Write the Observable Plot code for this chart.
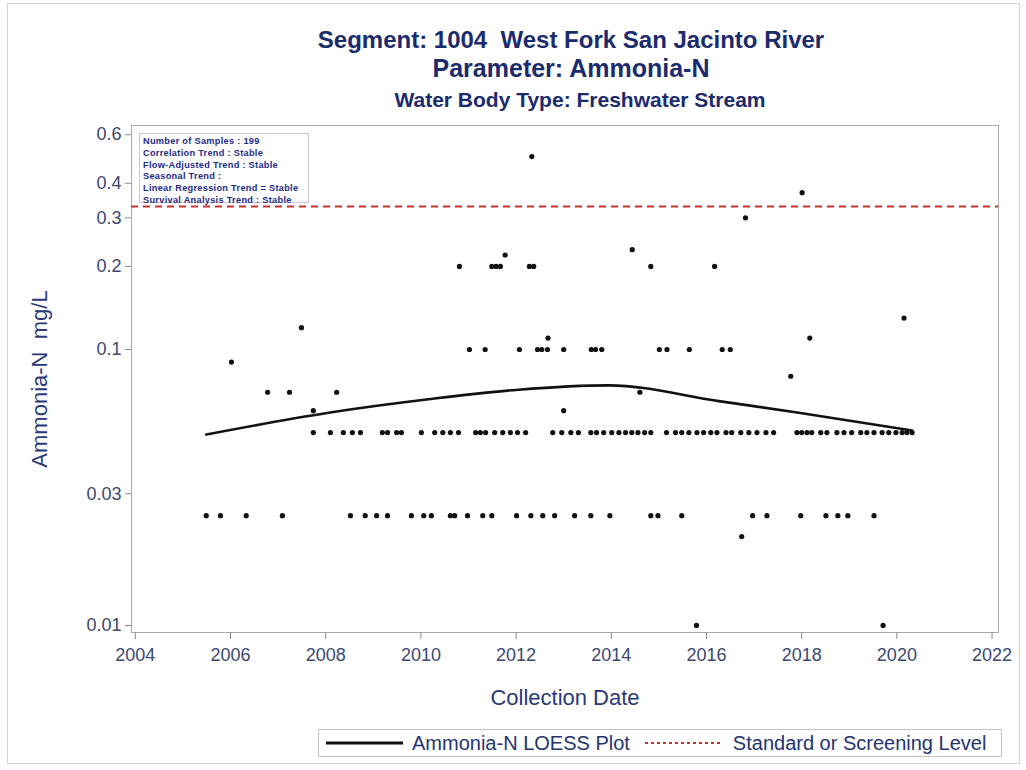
<!DOCTYPE html>
<html>
<head>
<meta charset="utf-8">
<script src="https://cdn.jsdelivr.net/npm/d3@7"></script>
<script src="https://cdn.jsdelivr.net/npm/@observablehq/plot@0.6"></script>
<style>
  body { margin: 0; background: #fff; font-family: "Liberation Sans", Arial, sans-serif; }
  #wrap { position: relative; width: 1026px; height: 770px; overflow: hidden; }
  #outer { position: absolute; left: 7px; top: 3px; width: 1011px; height: 759px; border: 1px solid #d4d4d4; }
  .title { position: absolute; left: 131px; width: 880px; text-align: center; font-weight: bold; color: #1c2a6e; white-space: pre; }
  #chart { position: absolute; left: 0; top: 110px; }
  #stats { position: absolute; left: 139px; top: 133px; width: 170px; height: 70px; border: 1px solid #c8c8d8;
           font-size: 9.2px; letter-spacing: 0.3px; font-weight: bold; color: #1e2c85; line-height: 11.8px; padding: 2px 0 0 3px; box-sizing: border-box; background: #fff; white-space: nowrap; }
  #legend { position: absolute; left: 318px; top: 729px; width: 684px; height: 28px; border: 1px solid #c4c4c4; box-sizing: border-box;
            display: flex; align-items: center; font-size: 20px; color: #25346f; white-space: nowrap; }
  #legend svg { display: block; }
</style>
</head>
<body>
<div id="wrap">
  <div id="outer"></div>
  <div class="title" id="t1" style="top:26px; font-size:24px;"></div>
  <div class="title" id="t2" style="top:54px; font-size:25px;"></div>
  <div class="title" id="t3" style="top:88px; left:140px; font-size:21px;"></div>
  <div id="chart"></div>
  <div id="stats"></div>
  <div id="legend"></div>
</div>
<script>
// ---- text ----
const titleLines = ["Segment: 1004  West Fork San Jacinto River", "Parameter: Ammonia-N", "Water Body Type: Freshwater Stream"];
const statsLines = ["Number of Samples : 199", "Correlation Trend : Stable", "Flow-Adjusted Trend : Stable", "Seasonal Trend :", "Linear Regression Trend = Stable", "Survival Analysis Trend : Stable"];
const xLabel = "Collection Date";
const yLabel = "Ammonia-N  mg/L";
const legendLabels = ["Ammonia-N LOESS Plot", "Standard or Screening Level"];

// ---- ticks ----
const xTicks = [2004, 2006, 2008, 2010, 2012, 2014, 2016, 2018, 2020, 2022];
const yTicks = [0.01, 0.03, 0.1, 0.2, 0.3, 0.4, 0.6];

// ---- standard level ----
const standardLevel = 0.33;

// ---- samples at 0.05 mg/L (decimal year) ----
const dates05 = [2007.74, 2008.10, 2008.37, 2008.56, 2008.73, 2009.19, 2009.30, 2009.49, 2009.59, 2010.01,
  2010.29, 2010.46, 2010.62, 2010.79, 2011.15, 2011.25, 2011.36, 2011.55, 2011.72, 2011.88,
  2012.03, 2012.20, 2012.77, 2012.96, 2013.15, 2013.31, 2013.57, 2013.69, 2013.84, 2014.01,
  2014.16, 2014.30, 2014.43, 2014.56, 2014.70, 2014.83, 2015.16, 2015.35, 2015.48, 2015.63,
  2015.80, 2015.94, 2016.09, 2016.22, 2016.41, 2016.53, 2016.72, 2016.89, 2017.06, 2017.25,
  2017.41, 2017.90, 2018.00, 2018.11, 2018.21, 2018.40, 2018.53, 2018.74, 2018.89, 2019.05,
  2019.24, 2019.37, 2019.52, 2019.69, 2019.83, 2019.98, 2020.11, 2020.21, 2020.32];

// ---- samples at 0.025 mg/L ----
const dates025 = [2005.49, 2005.79, 2006.33, 2007.09, 2008.52, 2008.83, 2009.07, 2009.30, 2009.80, 2010.06,
  2010.22, 2010.62, 2010.71, 2010.98, 2011.30, 2011.49, 2012.01, 2012.31, 2012.56, 2012.81,
  2013.23, 2013.57, 2013.97, 2014.83, 2014.98, 2015.48, 2016.97, 2017.27, 2017.98, 2018.51,
  2018.76, 2018.97, 2019.52];

// ---- samples at 0.1 mg/L ----
const dates01 = [2011.02, 2011.35, 2012.07, 2012.45, 2012.54, 2012.66, 2013.00, 2013.58, 2013.67, 2013.80,
  2015.01, 2015.17, 2015.64, 2016.33, 2016.50];

// ---- samples at 0.2 mg/L ----
const dates02 = [2010.81, 2011.49, 2011.58, 2011.67, 2012.28, 2012.37, 2014.83, 2016.17];

// ---- other samples ----
const otherDates  = [2006.02, 2006.78, 2007.24, 2007.49, 2007.74, 2008.23, 2011.77, 2012.33, 2014.44, 2012.67,
  2018.17, 2018.01, 2016.82, 2020.15, 2017.77, 2013.00, 2014.60, 2015.79, 2019.71, 2016.74];
const otherValues = [0.09, 0.07, 0.07, 0.12, 0.06, 0.07, 0.22, 0.5, 0.23, 0.11,
  0.11, 0.37, 0.30, 0.13, 0.08, 0.06, 0.07, 0.01, 0.01, 0.021];

// ---- LOESS curve ----
const loessDates  = [2005.49, 2008.06, 2010.16, 2012.05, 2013.95, 2016.26, 2017.94, 2020.32];
const loessValues = [0.0492, 0.0590, 0.0660, 0.0715, 0.0741, 0.0650, 0.0590, 0.0509];

// ---- build tables ----
const samples = [
  ...dates05.map(d => ({date: d, value: 0.05})),
  ...dates025.map(d => ({date: d, value: 0.025})),
  ...dates01.map(d => ({date: d, value: 0.1})),
  ...dates02.map(d => ({date: d, value: 0.2})),
  ...otherDates.map((d, i) => ({date: d, value: otherValues[i]}))
];
const loess = loessDates.map((d, i) => ({date: d, value: loessValues[i]}));

document.getElementById("t1").textContent = titleLines[0];
document.getElementById("t2").textContent = titleLines[1];
document.getElementById("t3").textContent = titleLines[2];
document.getElementById("stats").innerHTML = statsLines.map(s => `<div>${s}</div>`).join("");

const tickColor = "#3c4870";
const labelColor = "#2a3a78";

const chart = Plot.plot({
  width: 1026,
  height: 602,
  marginTop: 15,
  marginBottom: 80,
  marginLeft: 131,
  marginRight: 28,
  style: {fontFamily: "'Liberation Sans', Arial, sans-serif", background: "transparent"},
  x: {domain: [2003.92, 2022.135]},
  y: {type: "log", domain: [0.00943, 0.648]},
  marks: [
    Plot.frame({stroke: "#a9a9a9"}),
    Plot.axisX(xTicks, {tickFormat: d => String(d), fontSize: 18, tickSize: 7, tickPadding: 9, stroke: "#8a8a8a", fill: tickColor, label: null}),
    Plot.axisY(yTicks, {tickFormat: d => String(d), fontSize: 18, tickSize: 6, tickPadding: 4, stroke: "#8a8a8a", fill: tickColor, label: null}),
    Plot.ruleY([standardLevel], {stroke: "#c8302c", strokeWidth: 2, strokeDasharray: "7,5"}),
    Plot.line(loess, {x: "date", y: "value", stroke: "#111", strokeWidth: 2.6, curve: "monotone-x"}),
    Plot.dot(samples, {x: "date", y: "value", r: 2.6, fill: "#111", stroke: null}),
    Plot.text([xLabel], {frameAnchor: "bottom", dy: 72, fontSize: 22, fill: labelColor}),
    Plot.text([yLabel], {frameAnchor: "left", dx: -92, rotate: -90, textAnchor: "middle", fontSize: 22, fill: labelColor})
  ]
});
document.getElementById("chart").appendChild(chart);

// ---- legend ----
const legend = document.getElementById("legend");
legend.innerHTML =
  `<svg width="84" height="20" style="margin-left:6px"><line x1="1" x2="78" y1="10" y2="10" stroke="#111" stroke-width="3"/></svg>` +
  `<span style="margin-left:3px">${legendLabels[0]}</span>` +
  `<svg width="90" height="20" style="margin-left:8px"><line x1="7" x2="82" y1="10" y2="10" stroke="#c8302c" stroke-width="2" stroke-dasharray="3,3"/></svg>` +
  `<span style="margin-left:5px">${legendLabels[1]}</span>`;
</script>
</body>
</html>
